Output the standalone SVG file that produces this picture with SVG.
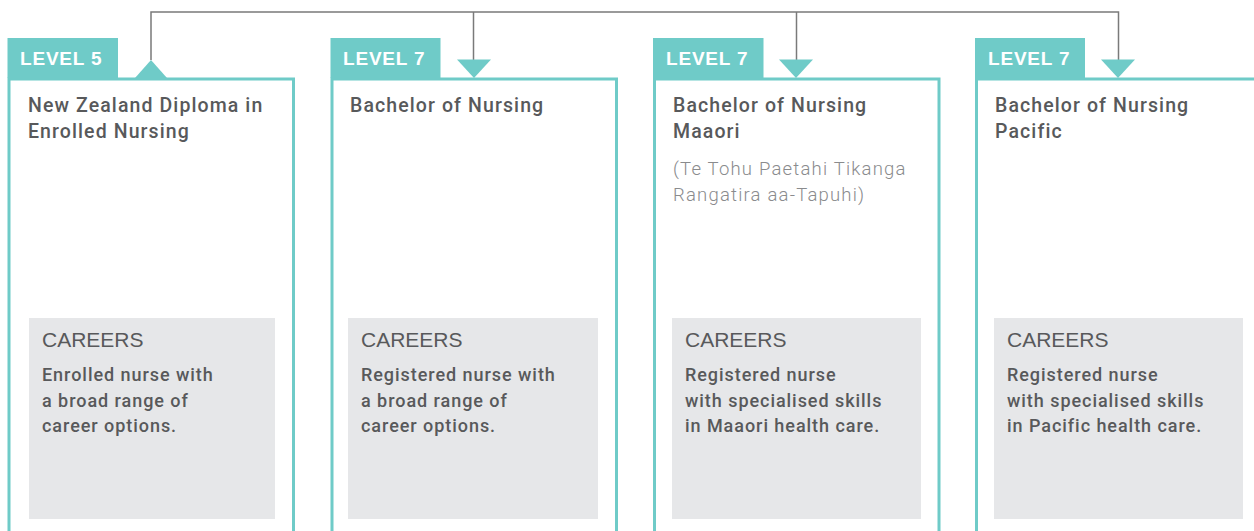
<svg xmlns="http://www.w3.org/2000/svg" width="1254" height="531" viewBox="0 0 1254 531">
<style>
.box{fill:#fff;stroke:#6fcbc8;stroke-width:3}
.tab{fill:#6fcbc8}
.tri{fill:#6fcbc8}
.lvl{font-family:"Liberation Sans",Arial,sans-serif;font-weight:bold;font-size:19px;fill:#fff;letter-spacing:0.8px}
.ttl{font-family:Roboto,"Liberation Sans",Arial,sans-serif;font-weight:500;font-size:19.5px;fill:#58595b;letter-spacing:1.1px}
.sub{font-family:Roboto,"Liberation Sans",Arial,sans-serif;font-weight:300;font-size:18.5px;fill:#8a8b8d;letter-spacing:1.2px}
.car{fill:#e6e7e9}
.ch{font-family:"Liberation Sans",Arial,sans-serif;font-size:21px;fill:#58595b}
.cb{font-family:Roboto,"Liberation Sans",Arial,sans-serif;font-weight:500;font-size:18px;fill:#58595b;letter-spacing:0.95px}
.conn{fill:none;stroke:#7a7a7a;stroke-width:1.5}
</style>
<g id="connectors">
<polyline class="conn" points="151,60 151,12 1118.5,12 1118.5,60"/>
<line class="conn" x1="473.5" y1="12" x2="473.5" y2="60"/>
<line class="conn" x1="796.5" y1="12" x2="796.5" y2="60"/>
</g>
<g id="card1">
<rect class="box" x="9" y="79" width="284.5" height="470"/>
<rect class="tab" x="7.5" y="38" width="110.5" height="40"/>
<polygon class="tri" points="135,78 167,78 151,60"/>
<text class="lvl" x="20" y="65">LEVEL 5</text>
<text class="ttl" x="28" y="112">New Zealand Diploma in</text>
<text class="ttl" x="28" y="138">Enrolled Nursing</text>
<rect class="car" x="29" y="318" width="246" height="201"/>
<text class="ch" x="42" y="347">CAREERS</text>
<text class="cb" x="42" y="381">Enrolled nurse with</text>
<text class="cb" x="42" y="407">a broad range of</text>
<text class="cb" x="42" y="432">career options.</text>
</g>
<g id="card2">
<rect class="box" x="332" y="79" width="284.5" height="470"/>
<rect class="tab" x="330.5" y="38" width="110" height="40"/>
<polygon class="tri" points="457,59.5 491,59.5 474,78"/>
<text class="lvl" x="343" y="65">LEVEL 7</text>
<text class="ttl" x="350" y="112">Bachelor of Nursing</text>
<rect class="car" x="348" y="318" width="250" height="201"/>
<text class="ch" x="361" y="347">CAREERS</text>
<text class="cb" x="361" y="381">Registered nurse with</text>
<text class="cb" x="361" y="407">a broad range of</text>
<text class="cb" x="361" y="432">career options.</text>
</g>
<g id="card3">
<rect class="box" x="654.5" y="79" width="284.5" height="470"/>
<rect class="tab" x="653" y="38" width="110.5" height="40"/>
<polygon class="tri" points="779,59.5 813,59.5 796,78"/>
<text class="lvl" x="666" y="65">LEVEL 7</text>
<text class="ttl" x="673" y="112">Bachelor of Nursing</text>
<text class="ttl" x="673" y="138">Maaori</text>
<text class="sub" x="673" y="175">(Te Tohu Paetahi Tikanga</text>
<text class="sub" x="673" y="201">Rangatira aa-Tapuhi)</text>
<rect class="car" x="672" y="318" width="249" height="201"/>
<text class="ch" x="685" y="347">CAREERS</text>
<text class="cb" x="685" y="381">Registered nurse</text>
<text class="cb" x="685" y="407">with specialised skills</text>
<text class="cb" x="685" y="432">in Maaori health care.</text>
</g>
<g id="card4">
<rect class="box" x="976.5" y="79" width="300" height="470"/>
<rect class="tab" x="975" y="38" width="110" height="40"/>
<polygon class="tri" points="1101,59.5 1135,59.5 1118,78"/>
<text class="lvl" x="988" y="65">LEVEL 7</text>
<text class="ttl" x="995" y="112">Bachelor of Nursing</text>
<text class="ttl" x="995" y="138">Pacific</text>
<rect class="car" x="994" y="318" width="249" height="201"/>
<text class="ch" x="1007" y="347">CAREERS</text>
<text class="cb" x="1007" y="381">Registered nurse</text>
<text class="cb" x="1007" y="407">with specialised skills</text>
<text class="cb" x="1007" y="432">in Pacific health care.</text>
</g>
</svg>
